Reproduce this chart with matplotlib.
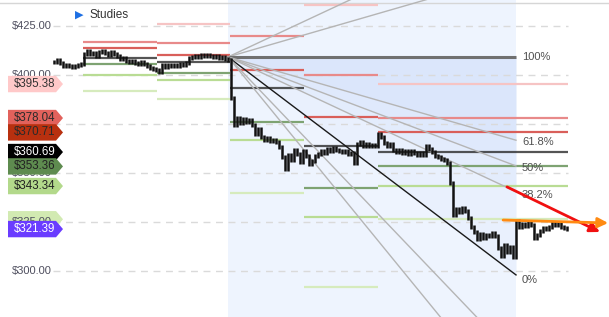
import matplotlib
matplotlib.use('Agg')
import matplotlib.pyplot as plt
from matplotlib.patches import Polygon, FancyArrowPatch
import numpy as np

plt.rcParams['font.family'] = ['Liberation Sans', 'DejaVu Sans']

# ---------------- data ----------------
closes = [
    406.6, 407.7, 406.1, 404.6, 405.1, 404.6, 404.1, 404.6, 405.1, 405.6,
    410.7, 412.3, 410.7, 411.2, 409.7, 411.7, 412.3, 411.2, 410.2, 411.7,
    410.7, 409.7, 408.2, 408.7, 407.2, 406.6, 407.2, 406.1, 405.6, 406.6,
    405.6, 404.6, 403.6, 403.1, 402.6, 401.5, 405.1, 404.1, 405.1, 404.6,
    405.1, 404.6, 405.6, 405.1, 406.1, 408.7, 409.2, 409.7, 409.2, 410.2,
    409.7, 410.2, 409.7, 409.2, 409.7, 408.7, 409.2, 408.2, 407.7, 388.3,
    374.5, 378.1, 375.5, 377.6, 376.1, 377.0, 374.5, 369.9, 372.4, 368.4,
    366.8, 367.8, 366.3, 366.8, 365.8, 363.3, 358.2, 352.0, 359.2, 356.6,
    361.7, 359.7, 355.6, 361.2, 358.7, 354.6, 356.1, 358.7, 359.7, 361.2,
    360.2, 362.2, 361.2, 362.7, 361.7, 361.2, 360.7, 361.2, 359.7, 360.2,
    355.1, 364.8, 365.8, 363.8, 364.8, 363.8, 364.3, 363.8, 369.9, 368.4,
    365.3, 363.8, 364.8, 361.7, 360.7, 361.7, 360.2, 361.2, 359.7, 361.2,
    360.2, 359.2, 360.2, 359.2, 363.8, 362.2, 360.7, 358.7, 358.2, 357.1,
    356.6, 355.1, 344.9, 328.6, 331.6, 330.1, 332.1, 330.6, 327.0, 322.5,
    319.9, 316.3, 318.9, 316.8, 318.4, 317.9, 319.4, 317.9, 311.7, 307.7,
    313.3, 309.7, 312.2, 307.2, 325.5, 322.5, 324.0, 323.0, 324.5, 323.5,
    316.8, 318.4, 320.4, 322.0, 321.4, 322.5, 324.5, 323.5, 324.5, 322.5,
    321.9, 321.39,
]

# pivot periods (bar-index boundaries) and their levels R3, R2, R1, P, S1, S2, S3
period_bounds = [9.67, 34.33, 58.67, 83.33, 108.0, 171.33]
pivot_levels = [
    [np.nan, 416.8, 413.8, 408.7, 405.6, 400.0, 391.8],
    [426.0, 416.3, 410.2, 406.6, 401.0, 397.4, 387.8],
    [np.nan, 419.9, 402.6, 393.4, 376.0, 366.8, 339.8],
    [435.7, 400.0, 378.6, 363.8, 342.3, 327.6, 291.8],
    [395.38, 378.04, 370.71, 360.69, 353.36, 343.34, 326.4],
]
pivot_names = ['R3', 'R2', 'R1', 'P', 'S1', 'S2', 'S3']

# Fibonacci fan
fan_start_bar, fan_end_bar = 58, 154
fan_high, fan_low = 409.2, 298.0
fan_ratios = [1.618, 1.382, 1.0, 0.618, 0.5, 0.382, 0.0, -0.382, -0.618]
fib_labels = {1.0: '100%', 0.618: '61.8%', 0.5: '50%', 0.382: '38.2%', 0.0: '0%'}

# price tags on the left
tag_prices = [395.38, 378.04, 370.71, 360.69, 353.36, 343.34, 326.4, 321.39]
tag_texts = ['$395.38', '$378.04', '$370.71', '$360.69', '$353.36', '$343.34', '', '$321.39']

grid_levels = [300, 325, 350, 375, 400, 425]
grid_labels = ['$300.00', '$325.00', '$350.00', '$375.00', '$400.00', '$425.00']

red_arrow = [(151, 342.9), (182, 319.9)]
orange_arrow = [(149.7, 326.0), (184.7, 324.5)]

# ---------------- layout helpers ----------------
W, H = 609, 317
PPU = 1.96                      # pixels per dollar


def X(px):                      # pixel column -> bar-index coordinate
    return (px - 54) / 3.0


def P(py):                      # pixel row -> price coordinate
    return 425 - (py - 26) / PPU


fig = plt.figure(figsize=(W / 100, H / 100), dpi=100)
ax = fig.add_axes([0, 0, 1, 1])
ax.set_xlim(X(0), X(W))
ax.set_ylim(P(H), P(0))
ax.axis('off')

# top border
ax.axhline(P(3), color='#d6d6d6', lw=1, zorder=1)

# ---------------- fan shading ----------------
ax.axvspan(fan_start_bar, fan_end_bar, color='#eef4fe', lw=0, zorder=0)


def fan_line(f, xs):
    end = fan_low + f * (fan_high - fan_low)
    return fan_high + (end - fan_high) * (np.asarray(xs) - fan_start_bar) / (fan_end_bar - fan_start_bar)


xs_fan = np.array([fan_start_bar, fan_end_bar])
sector_colors = [((1.0, 0.618), '#dbe6fb'), ((0.618, 0.5), '#dfe9fc'),
                 ((0.5, 0.382), '#e3ecfc'), ((0.382, 0.0), '#e9f0fd')]
for (fa, fb), c in sector_colors:
    ax.fill_between(xs_fan, fan_line(fa, xs_fan), fan_line(fb, xs_fan), color=c, lw=0, zorder=0.5)

# grid lines
for g in grid_levels:
    ax.plot([X(53), X(568)], [g, g], color='#dadada', lw=1, ls=(0, (5, 4)), zorder=1)

# ---------------- pivot lines ----------------
pivot_colors = ['#f6c4c4', '#e88a8a', '#d95f5a', '#2a2a2a', '#7ea372', '#b9dc94', '#d6ebbd']
pivot_alpha = [1, 1, 1, 0.8, 1, 1, 1]
for k, levels in enumerate(pivot_levels):
    x0, x1 = period_bounds[k], period_bounds[k + 1]
    for j, lv in enumerate(levels):
        if np.isnan(lv):
            continue
        ax.plot([x0, x1], [lv, lv], color=pivot_colors[j], alpha=pivot_alpha[j], lw=1.6,
                zorder=2, solid_capstyle='butt')

# ---------------- fan lines ----------------
for f in fan_ratios:
    ys = fan_line(f, xs_fan)
    if f == 1.0:
        ax.plot(xs_fan, ys, color='#707070', lw=2.2, zorder=3, solid_capstyle='butt')
    elif f == 0.0:
        ax.plot(xs_fan, ys, color='#1a1a1a', lw=1.0, zorder=3)
    else:
        ax.plot(xs_fan, ys, color='#b5b5b5', lw=1.0, zorder=3)

for f, lab in fib_labels.items():
    y = fan_low + f * (fan_high - fan_low) - 5 * (1 - f) / PPU
    ax.text(X(522), y, lab, ha='left', va='center', fontsize=8, color='#505050', zorder=6)

# ---------------- price bars ----------------
for i, c in enumerate(closes):
    o = closes[i - 1] if i > 0 else c
    lo, hi = min(o, c) - 0.9, max(o, c) + 0.9
    ax.plot([i, i], [lo, hi], color='#111111', lw=1.8, zorder=4, solid_capstyle='butt')

# ---------------- arrows ----------------
ax.add_patch(FancyArrowPatch(red_arrow[0], red_arrow[1], arrowstyle='-|>', mutation_scale=15,
                             color='#f01010', lw=2.0, zorder=7, shrinkA=0, shrinkB=0))
ax.add_patch(FancyArrowPatch(orange_arrow[0], orange_arrow[1], arrowstyle='-|>', mutation_scale=15,
                             color='#ff8a12', lw=2.0, zorder=7, shrinkA=0, shrinkB=0))

# ---------------- y axis labels ----------------
for g, lab in zip(grid_levels, grid_labels):
    ax.text(X(11.5), g, lab, ha='left', va='center', fontsize=8, color='#4e4e5e', zorder=8)

# ---------------- price tags ----------------
tag_fill = ['#ffc9c9', '#e2625c', '#b8300f', '#000000', '#5e8b4f', '#b3d98b', '#d2eab2', '#6a3cff']
tag_textc = ['#333333', '#2a2a2a', '#2a2a2a', '#ffffff', '#222222', '#222222', '#222222', '#ffffff']
tag_z = [9, 9, 9.1, 9.2, 9.3, 9.4, 7.5, 9.6]
hh = 8.2 / PPU
for p, t, fc, tc, z in zip(tag_prices, tag_texts, tag_fill, tag_textc, tag_z):
    verts = [(X(8), p - hh), (X(56), p - hh), (X(63), p), (X(56), p + hh), (X(8), p + hh)]
    ax.add_patch(Polygon(verts, closed=True, facecolor=fc, edgecolor='none', zorder=z))
    if t:
        ax.text(X(14), p, t, ha='left', va='center', fontsize=8.3, color=tc, zorder=z + 0.05)

# ---------------- Studies ----------------
ax.text(X(75), P(15), '\u25B6', ha='left', va='center', fontsize=8, color='#1d6fe3',
        family='DejaVu Sans', zorder=8)
ax.text(X(89), P(15), 'Studies', ha='left', va='center', fontsize=8.5, color='#333333', zorder=8)

fig.savefig('out.png', dpi=100, facecolor='white')
